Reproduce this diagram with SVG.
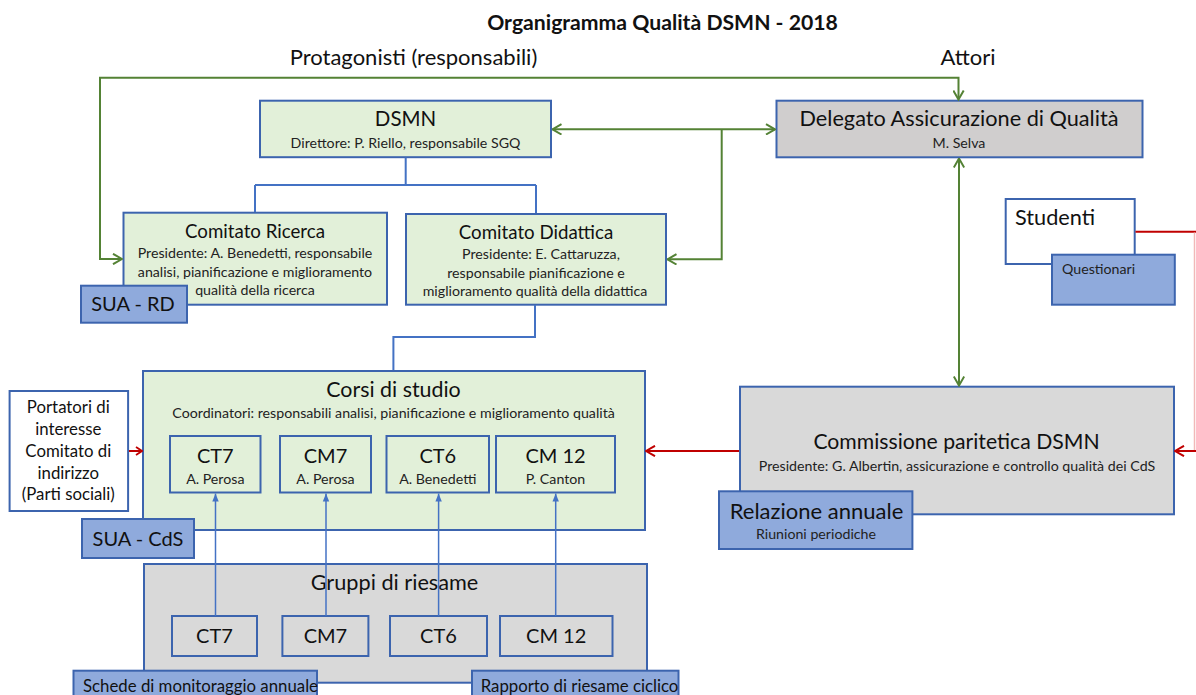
<svg xmlns="http://www.w3.org/2000/svg" width="1196" height="695" viewBox="0 0 1196 695">
<style>
text{font-family:Lato,"Liberation Sans",sans-serif;fill:#111;}
.t{text-anchor:middle;}
.box{stroke:#3C64AE;stroke-width:2;}
.g{fill:#E2F0D9;}
.gr{fill:#D9D9D9;}
.gd{fill:#D0CECE;}
.b{fill:#8FAADC;}
.w{fill:#FFFFFF;}
.big{font-size:20px;}
.lg{font-size:21.7px;}
.sm{font-size:14.2px;fill:#222;}
.lab{font-size:16.8px;}
.grn{fill:none;stroke:#548235;stroke-width:2;}
.blu{fill:none;stroke:#4472C4;stroke-width:2;}
.bla{fill:none;stroke:#4472C4;stroke-width:1.5;}
.red{fill:none;stroke:#C00000;stroke-width:2;}
.pink{fill:none;stroke:#F2B8B8;stroke-width:1.5;}
</style>
<defs>
<marker id="ag" markerUnits="userSpaceOnUse" viewBox="0 0 11 12" refX="10" refY="6" markerWidth="11" markerHeight="12" orient="auto-start-reverse"><path d="M1,0.8 L10,6 L1,11.2" fill="none" stroke="#548235" stroke-width="2"/></marker>
<marker id="ar" markerUnits="userSpaceOnUse" viewBox="0 0 11 12" refX="10" refY="6" markerWidth="11" markerHeight="12" orient="auto-start-reverse"><path d="M1,0.8 L10,6 L1,11.2" fill="none" stroke="#C00000" stroke-width="2"/></marker>
<marker id="ars" markerUnits="userSpaceOnUse" viewBox="0 0 8 10" refX="7" refY="5" markerWidth="8" markerHeight="10" orient="auto"><path d="M1,1 L7,5 L1,9" fill="none" stroke="#C00000" stroke-width="1.8"/></marker>
<marker id="ab" markerUnits="userSpaceOnUse" viewBox="0 0 8 8" refX="8" refY="4" markerWidth="8" markerHeight="8" orient="auto"><path d="M0,0.8 L8,4 L0,7.2 Z" fill="#4472C4"/></marker>
</defs>

<g id="titles">
<text class="t" x="662.5" y="29.5" style="font-size:21.2px;font-weight:bold">Organigramma Qualità DSMN - 2018</text>
<text class="t" x="413.5" y="65" style="font-size:22px">Protagonisti (responsabili)</text>
<text class="t" x="968" y="65" style="font-size:22px">Attori</text>
</g>

<g id="dsmn">
<rect class="box g" x="260" y="100.7" width="291" height="56.5"/>
<text class="t" x="405.5" y="126" style="font-size:20.5px">DSMN</text>
<text class="t sm" x="405.5" y="148">Direttore: P. Riello, responsabile SGQ</text>
</g>

<g id="delegato">
<rect class="box gd" x="776.5" y="100.7" width="366" height="56.6"/>
<text class="t lg" x="959" y="126">Delegato Assicurazione di Qualità</text>
<text class="t sm" x="959" y="148">M. Selva</text>
</g>

<g id="comitato-ricerca">
<rect class="box g" x="123.5" y="212.7" width="263.5" height="92"/>
<text class="t" x="255" y="238.3" style="font-size:18.7px">Comitato Ricerca</text>
<text class="t sm" x="255" y="258.3">Presidente: A. Benedetti, responsabile</text>
<text class="t sm" x="255" y="276.7">analisi, pianificazione e miglioramento</text>
<text class="t sm" x="255" y="295">qualità della ricerca</text>
</g>

<g id="sua-rd">
<rect class="box b" x="81" y="285.7" width="106" height="37"/>
<text class="t big" x="133" y="311">SUA - RD</text>
</g>

<g id="comitato-didattica">
<rect class="box g" x="406" y="214" width="260" height="90.7"/>
<text class="t" x="536" y="239" style="font-size:18.7px">Comitato Didattica</text>
<text class="t sm" x="541" y="259">Presidente: E. Cattaruzza,</text>
<text class="t sm" x="536" y="277.7">responsabile pianificazione e</text>
<text class="t sm" x="535" y="296">miglioramento  qualità della didattica</text>
</g>

<g id="studenti">
<rect class="box w" x="1005.7" y="199" width="129" height="65"/>
<text x="1015" y="225.3" style="font-size:21.7px">Studenti</text>
</g>

<g id="questionari">
<rect class="box b" x="1052" y="254.7" width="122.8" height="50"/>
<text class="sm" x="1062" y="274.3">Questionari</text>
</g>

<g id="corsi">
<rect class="box g" x="143" y="371" width="502" height="159"/>
<text class="t" x="393.5" y="397.3" style="font-size:21.4px">Corsi di studio</text>
<text class="t sm" x="393.6" y="418">Coordinatori: responsabili analisi, pianificazione e miglioramento qualità</text>
</g>

<g id="ct7">
<rect class="box g" x="170" y="436" width="90.5" height="56.5"/>
<text class="t big" x="215.3" y="462.7">CT7</text>
<text class="t sm" x="215.3" y="484.3">A. Perosa</text>
</g>
<g id="cm7">
<rect class="box g" x="280" y="436" width="91" height="56.5"/>
<text class="t big" x="325.5" y="462.7">CM7</text>
<text class="t sm" x="325.5" y="484.3">A. Perosa</text>
</g>
<g id="ct6">
<rect class="box g" x="386.5" y="436" width="102.5" height="56.5"/>
<text class="t big" x="437.8" y="462.7">CT6</text>
<text class="t sm" x="437.8" y="484.3">A. Benedetti</text>
</g>
<g id="cm12">
<rect class="box g" x="496" y="436" width="119" height="56.5"/>
<text class="t big" x="555.5" y="462.7">CM 12</text>
<text class="t sm" x="555.5" y="484.3">P. Canton</text>
</g>

<g id="portatori">
<rect class="box w" x="9.6" y="391" width="118.5" height="120"/>
<text class="t lab" x="68.3" y="413">Portatori di</text>
<text class="t lab" x="68.3" y="435">interesse</text>
<text class="t lab" x="68.3" y="456.5">Comitato di</text>
<text class="t lab" x="68.3" y="478.5">indirizzo</text>
<text class="t lab" x="68.3" y="500">(Parti sociali)</text>
</g>

<g id="sua-cds">
<rect class="box b" x="82" y="519" width="112" height="39"/>
<text class="t big" x="138" y="546">SUA - CdS</text>
</g>

<g id="commissione">
<rect class="box gr" x="740" y="386.7" width="434" height="127.6"/>
<text class="t" x="956.5" y="449.3" style="font-size:21.2px">Commissione paritetica DSMN</text>
<text class="t sm" x="957" y="470.7">Presidente: G. Albertin, assicurazione e controllo qualità dei CdS</text>
</g>

<g id="relazione">
<rect class="box b" x="719" y="491.3" width="193.4" height="57.7"/>
<text class="t" x="816.5" y="518.7" style="font-size:22px">Relazione annuale</text>
<text class="t sm" x="816" y="539">Riunioni periodiche</text>
</g>

<g id="gruppi">
<rect class="box gr" x="144" y="564" width="503" height="118.7"/>
<text class="t lg" x="394.5" y="590">Gruppi di riesame</text>
</g>
<g id="g-ct7">
<rect class="box gr" x="172" y="616" width="85" height="40"/>
<text class="t big" x="214.5" y="642.5">CT7</text>
</g>
<g id="g-cm7">
<rect class="box gr" x="282.4" y="616" width="86" height="40"/>
<text class="t big" x="325.4" y="642.5">CM7</text>
</g>
<g id="g-ct6">
<rect class="box gr" x="390" y="616" width="97" height="40"/>
<text class="t big" x="438.5" y="642.5">CT6</text>
</g>
<g id="g-cm12">
<rect class="box gr" x="500" y="616" width="112.5" height="40"/>
<text class="t big" x="556.2" y="642.5">CM 12</text>
</g>

<g id="schede">
<rect class="box b" x="73.5" y="670.7" width="243.5" height="30"/>
<text class="t lab" x="200.5" y="692">Schede di monitoraggio annuale</text>
</g>
<g id="rapporto">
<rect class="box b" x="472" y="670.7" width="206.5" height="30"/>
<text class="t lab" x="579.5" y="692">Rapporto di riesame ciclico</text>
</g>

<g id="connectors">
<path class="grn" d="M958.5,99.5 V77.7 H100 V259 H122" marker-start="url(#ag)" marker-end="url(#ag)"/>
<path class="grn" d="M552.5,129.3 H775" marker-start="url(#ag)" marker-end="url(#ag)"/>
<path class="grn" d="M721.7,129.3 V259.3 H667.5" marker-end="url(#ag)"/>
<path class="grn" d="M959,158.5 V385.5" marker-start="url(#ag)" marker-end="url(#ag)"/>
<path class="blu" d="M405.7,157.5 V185 M255,185 H536 M255,185 V212 M536,185 V213"/>
<path class="blu" d="M535,305 V337 H393.4 V370"/>
<path class="bla" d="M215.5,616 V493.5" marker-end="url(#ab)"/>
<path class="bla" d="M326,616 V493.5" marker-end="url(#ab)"/>
<path class="bla" d="M438.6,616 V493.5" marker-end="url(#ab)"/>
<path class="bla" d="M555.7,616 V493.5" marker-end="url(#ab)"/>
<path class="red" d="M739,451 H646" marker-end="url(#ar)"/>
<path class="red" d="M129,451 H142" marker-end="url(#ars)"/>
<path class="red" d="M1135.5,231.7 H1196"/>
<path class="pink" d="M1194.5,232.5 V450"/>
<path class="red" d="M1196,451 H1175" marker-end="url(#ar)"/>
</g>
</svg>
